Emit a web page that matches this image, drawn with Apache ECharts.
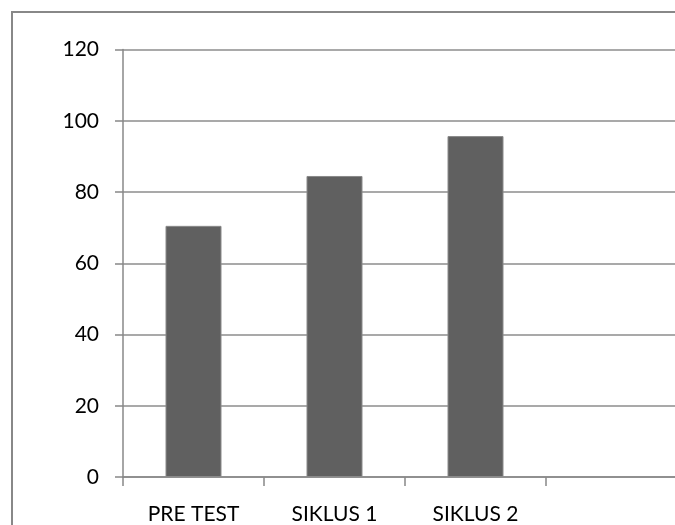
<!DOCTYPE html>
<html><head><meta charset="utf-8">
<script src="https://cdn.jsdelivr.net/npm/echarts@6/dist/echarts.min.js"></script>
<style>html,body{margin:0;padding:0;background:#fff;overflow:hidden;width:675px;height:525px}#c{width:720px;height:525px}</style>
</head><body><div id="c"></div>
<script>
const categories = ['PRE TEST', 'SIKLUS 1', 'SIKLUS 2', ''];
const values = [70.5, 84.5, 95.7];
const yTicks = [0, 20, 40, 60, 80, 100, 120];

const chart = echarts.init(document.getElementById('c'), null, {renderer: 'canvas'});
chart.setOption({
  animation: false,
  graphic: [{
    type: 'line', z: -1,
    shape: {x1: 12, y1: 12, x2: 12, y2: 700},
    style: {stroke: '#888', lineWidth: 2}
  }, {
    type: 'line', z: -1,
    shape: {x1: 11, y1: 12, x2: 760, y2: 12},
    style: {stroke: '#888', lineWidth: 2}
  }],
  grid: {left: 123, top: 49.5, width: 564, bottom: 47, containLabel: false},
  xAxis: {
    type: 'category', data: categories,
    axisLine: {lineStyle: {color: '#888', width: 1.5}},
    axisTick: {show: true, alignWithLabel: false, length: 9, lineStyle: {color: '#888', width: 1.5}},
    axisLabel: {color: '#000', fontFamily: 'Lato', fontSize: 21, margin: 27}
  },
  yAxis: {
    type: 'value', min: yTicks[0], max: yTicks[yTicks.length - 1], interval: 20,
    axisLine: {show: true, lineStyle: {color: '#888', width: 1.5}},
    axisTick: {show: true, length: 8, lineStyle: {color: '#888', width: 1.5}},
    splitLine: {lineStyle: {color: '#8c8c8c', width: 1.5}},
    axisLabel: {color: '#000', fontFamily: 'Lato', fontSize: 21, margin: 24}
  },
  series: [{
    type: 'bar', data: values, barWidth: 56,
    itemStyle: {color: '#606060', borderColor: '#8a8a8a', borderWidth: 1}
  }]
});
</script></body></html>
